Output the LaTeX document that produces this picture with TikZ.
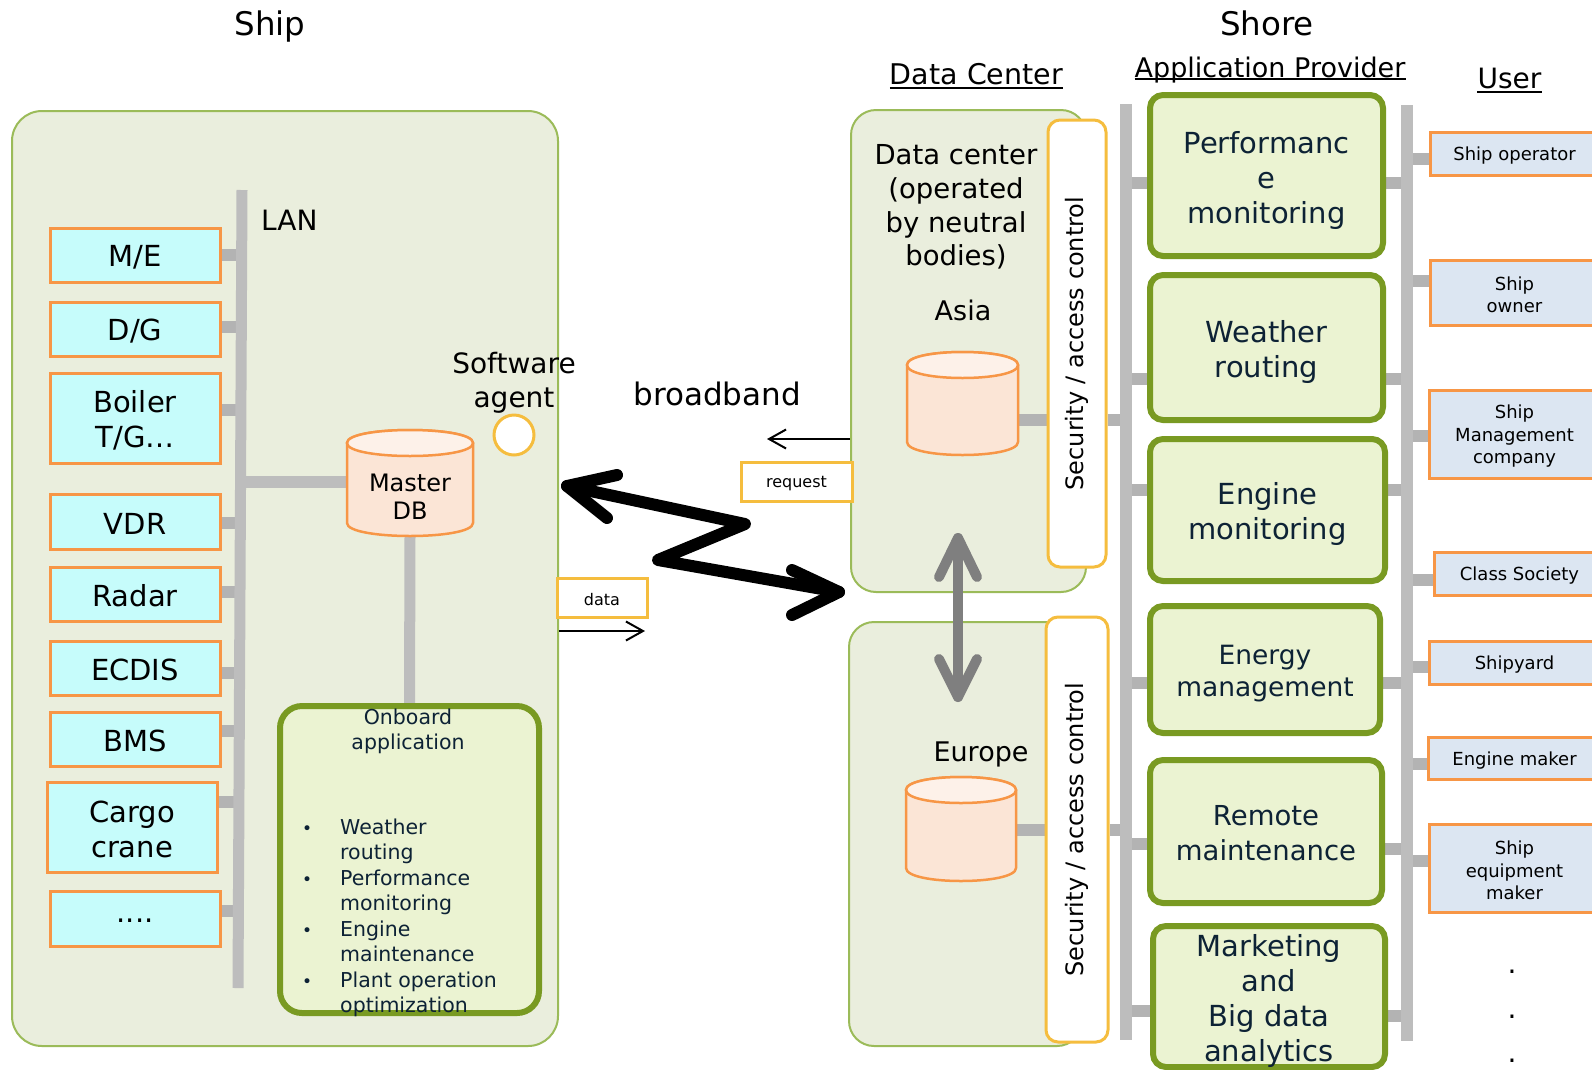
\documentclass[tikz,border=0pt]{standalone}
\usepackage{fontspec}
\usepackage{graphicx}
\setmainfont{DejaVu Sans}
\usetikzlibrary{arrows.meta}
\pgfdeclarelayer{panels}
\pgfdeclarelayer{links}
\pgfsetlayers{panels,links,main}

\definecolor{panelfill}{HTML}{EAEEDD}
\definecolor{panelline}{HTML}{9BBB59}
\definecolor{devfill}{HTML}{C6FCFB}
\definecolor{orangeline}{HTML}{F79646}
\definecolor{dbbody}{HTML}{FBE5D6}
\definecolor{dbtop}{HTML}{FDF1E9}
\definecolor{goldline}{HTML}{F5BD3E}
\definecolor{appfill}{HTML}{EBF3D2}
\definecolor{appline}{HTML}{799A22}
\definecolor{userfill}{HTML}{DCE6F2}
\definecolor{navy}{HTML}{0D2235}
\definecolor{busgray}{HTML}{BDBDBD}
\definecolor{stubgray}{HTML}{B3B3B3}
\definecolor{arrowgray}{HTML}{7F7F7F}

\newcommand\fs[2]{\fontsize{#1}{#2}\selectfont}

\tikzset{
  plain/.style={inner sep=0pt, align=center},
  panel/.style={draw=panelline, fill=panelfill, line width=2pt, rounded corners=30pt, inner sep=0pt},
  device/.style={draw=orangeline, fill=devfill, line width=3pt, inner sep=0pt},
  devtext/.style={plain, font=\fs{29}{35}, yshift=-2pt},
  appbox/.style={draw=appline, fill=appfill, line width=6pt, rounded corners=13pt, inner sep=0pt},
  apptext/.style={plain, text=navy, font=\fs{29}{35}, yshift=-4.5pt},
  userbox/.style={draw=orangeline, fill=userfill, line width=3pt, inner sep=0pt, anchor=west},
  usertext/.style={plain, font=\fs{18}{22.5}, yshift=-2.5pt},
  secbox/.style={draw=goldline, fill=white, line width=3pt, rounded corners=12pt, inner sep=0pt, font=\fs{24}{28}},
  tagbox/.style={draw=goldline, fill=white, line width=3pt, inner sep=0pt},
  tagtext/.style={plain, font=\fs{16}{19}, yshift=-2pt},
  bus/.style={draw=busgray, line width=12pt},
  stub/.style={draw=stubgray, line width=12pt},
  msgarrow/.style={line width=2pt, -{Straight Barb[length=17pt, width=19pt]}},
  zig/.style={line width=12pt, line cap=round, line join=round},
  dcarrow/.style={draw=arrowgray, line width=10pt, line cap=round, line join=round},
  uline/.style={line width=2pt},
}

% a framed box and its caption: box options, name, position, caption options, caption
\newcommand\tbox[5]{\node[#1] (#2) at (#3) {}; \node[#4] (#2Text) at (#2.center) {#5};}

% horizontal connector between two nodes at a given height
\newcommand\hstub[3]{\coordinate (stubrow) at (0,#3); \draw[stub] (#1 |- stubrow) -- (#2 |- stubrow);}

% database cylinder: name, centre x, top-ellipse y, bottom-ellipse y, half width, ellipse half height
\newcommand\dbcyl[6]{%
  \pgfmathsetmacro\cL{#2-#5}\pgfmathsetmacro\cR{#2+#5}%
  \pgfmathsetmacro\cTu{#3-4/3*#6}\pgfmathsetmacro\cTd{#3+4/3*#6}\pgfmathsetmacro\cBd{#4+4/3*#6}%
  \pgfmathsetmacro\cMid{(#3+#4)/2}\pgfmathsetmacro\cW{2*#5}\pgfmathsetmacro\cH{#4-#3+2*#6}%
  \node[inner sep=0pt, minimum width=\cW, minimum height=\cH] (#1) at (#2,\cMid) {};
  \draw[draw=orangeline, fill=dbbody, line width=2.5pt, line join=round]
    (\cL,#3) -- (\cL,#4) .. controls (\cL,\cBd) and (\cR,\cBd) .. (\cR,#4) -- (\cR,#3)
    .. controls (\cR,\cTu) and (\cL,\cTu) .. (\cL,#3) -- cycle;
  \draw[draw=orangeline, fill=dbtop, line width=2.5pt]
    (\cL,#3) .. controls (\cL,\cTu) and (\cR,\cTu) .. (\cR,#3)
    .. controls (\cR,\cTd) and (\cL,\cTd) .. (\cL,#3) -- cycle;
}

\begin{document}
\begin{tikzpicture}[x=1pt, y=-1pt]
\useasboundingbox (0,0) rectangle (1592,1069);
\clip (0,0) rectangle (1592,1069);

% ---------- background panels ----------
\begin{pgfonlayer}{panels}
  \fill[white] (0,0) rectangle (1592,1069);
  \node[panel, minimum width=546, minimum height=935] (ship) at (285,578.5) {};
  \node[panel, rounded corners=25pt, minimum width=235, minimum height=482] (asia) at (968.5,351) {};
  \node[panel, rounded corners=25pt, minimum width=233, minimum height=424] (europe) at (965.5,834) {};
\end{pgfonlayer}

% ---------- headings ----------
\node[plain, anchor=base, font=\fs{32.5}{38}] (tShip) at (270,35) {Ship};
\node[plain, anchor=base, font=\fs{32.5}{38}] (tShore) at (1267,35) {Shore};
\node[plain, anchor=base, font=\fs{28.5}{34}] (hDC) at (976.5,84) {Data Center};
\draw[uline] ([yshift=-4pt]hDC.base west) -- ([yshift=-4pt]hDC.base east);
\node[plain, anchor=base, font=\fs{27}{34}] (hAP) at (1270,77) {Application Provider};
\draw[uline] ([yshift=-2pt]hAP.base west) -- ([yshift=-2pt]hAP.base east);
\node[plain, anchor=base, font=\fs{28}{34}] (hUser) at (1509.5,88) {User};
\draw[uline] ([yshift=-4pt]hUser.base west) -- ([yshift=-4pt]hUser.base east);

% ---------- ship side ----------
\coordinate (lanTop) at (242,190);
\coordinate (lanBot) at (238,988);
\node[plain, anchor=base west, font=\fs{28}{34}] (lanLbl) at (261,230) {LAN};

\tbox{device, minimum width=170, minimum height=54}{me}{135,255}{devtext}{M/E}
\tbox{device, minimum width=170, minimum height=54}{dg}{135,329}{devtext}{D/G}
\tbox{device, minimum width=170, minimum height=90}{boiler}{135,418}{devtext}{Boiler\\T/G…}
\tbox{device, minimum width=170, minimum height=55}{vdr}{135,521.5}{devtext}{VDR}
\tbox{device, minimum width=170, minimum height=54}{radar}{135,594}{devtext}{Radar}
\tbox{device, minimum width=170, minimum height=54}{ecdis}{135,668}{devtext}{ECDIS}
\tbox{device, minimum width=170, minimum height=54}{bms}{135,739}{devtext}{BMS}
\tbox{device, minimum width=170, minimum height=90}{cargo}{132,827}{devtext}{Cargo\\crane}
\tbox{device, minimum width=170, minimum height=55}{etc}{135,918.5}{devtext}{....}

\dbcyl{mdb}{410}{443}{523}{63}{13}
\node[plain, font=\fs{24}{28}] (mdbText) at (410,497) {Master\\DB};

\node[plain, font=\fs{28}{34}] (agentText) at (514,383) {Software\\agent};
\node[circle, draw=goldline, fill=white, line width=3pt, minimum size=40, inner sep=0pt] (agent) at (514,435) {};

\node[appbox, rounded corners=22pt, minimum width=259, minimum height=307] (onb) at (409.5,859.5) {};
\node[plain, text=navy, font=\fs{20.5}{25}] (onbTitle) at (408,731.5) {Onboard\\application};
\node[plain, text=navy, anchor=base west, font=\fs{20.5}{25.5}] (onbList) at (302,834)
  {\begin{tabular}[t]{@{}l@{\hspace{28pt}}l@{}}
   {\fs{17}{17}•} & Weather\\
                  & routing\\
   {\fs{17}{17}•} & Performance\\
                  & monitoring\\
   {\fs{17}{17}•} & Engine\\
                  & maintenance\\
   {\fs{17}{17}•} & Plant operation\\
                  & optimization
   \end{tabular}};

% ---------- broadband link ----------
\node[plain, anchor=base, font=\fs{31}{36}] (bb) at (717,405) {broadband};
\coordinate (zL) at (567,486);
\coordinate (zA) at (745,524);
\coordinate (zB) at (658,560);
\coordinate (zR) at (839,592);
\draw[zig] (zL) -- (zA) -- (zB) -- (zR);
\draw[zig] (zL) ++(50,-11) -- (zL) -- ++(40,32);
\draw[zig] (zR) ++(-47,-22) -- (zR) -- ++(-47,23);

\tbox{tagbox, minimum width=111, minimum height=39}{req}{796.5,481.5}{tagtext}{request}
\tbox{tagbox, minimum width=90, minimum height=39}{dat}{602,597.5}{tagtext}{data}
\coordinate (reqTip) at (767,439);
\coordinate (dataTip) at (645,631);
\draw[msgarrow] (asia.west |- reqTip) -- (reqTip);
\draw[msgarrow] (ship.east |- dataTip) -- (dataTip);

% ---------- data centres ----------
\node[plain, font=\fs{27.5}{33.7}] (dcText) at (956,207) {Data center\\(operated\\by neutral\\bodies)};
\node[plain, font=\fs{27}{32}] (asiaLbl) at (963,310) {Asia};
\node[plain, font=\fs{27}{32}] (euLbl) at (981,754) {Europe};
\dbcyl{cylA}{962.5}{365}{442}{55.5}{13}
\dbcyl{cylE}{961}{790}{868}{55}{13}
\node[secbox, minimum width=58, minimum height=447] (secA) at (1077,343.5) {\rotatebox{90}{Security / access control}};
\node[secbox, minimum width=62, minimum height=425] (secE) at (1077,829.5) {\rotatebox{90}{Security / access control}};

\coordinate (upTip) at (958,538);
\coordinate (downTip) at (958,697);
\draw[dcarrow] (upTip) -- (downTip);
\draw[dcarrow] (upTip) ++(-19,39) -- (upTip) -- ++(19,39);
\draw[dcarrow] (downTip) ++(-19,-38) -- (downTip) -- ++(19,-38);

% ---------- application providers ----------
\coordinate (busLtop) at (1125.5,104);
\coordinate (busLbot) at (1125.5,1040);
\coordinate (busRtop) at (1407,105);
\coordinate (busRbot) at (1407,1041);

\tbox{appbox, minimum width=233, minimum height=161}{perf}{1266.5,175.5}{apptext}{Performanc\\e\\monitoring}
\tbox{appbox, minimum width=233, minimum height=145}{wr}{1266.5,347.5}{apptext}{Weather\\routing}
\tbox{appbox, minimum width=235, minimum height=142}{engm}{1267.5,510}{apptext, yshift=1pt}{Engine\\monitoring}
\tbox{appbox, minimum width=230, minimum height=127}{enm}{1265,669.5}{apptext, font=\fs{26.5}{32}}{Energy\\management}
\tbox{appbox, minimum width=232, minimum height=143}{rm}{1266,831.5}{apptext, yshift=2.5pt, font=\fs{27.5}{35}}{Remote\\maintenance}
\tbox{appbox, minimum width=232, minimum height=141}{mk}{1269,996.5}{apptext}{Marketing\\and\\Big data\\analytics}

% ---------- users ----------
\tbox{userbox, minimum width=168, minimum height=43}{uOp}{1429,153.5}{usertext}{Ship operator}
\tbox{userbox, minimum width=168, minimum height=65}{uOw}{1429,292.5}{usertext}{Ship\\owner}
\tbox{userbox, minimum width=170, minimum height=88}{uMg}{1428,434}{usertext}{Ship\\Management\\company}
\tbox{userbox, minimum width=170, minimum height=43}{uCs}{1433,573.5}{usertext}{Class Society}
\tbox{userbox, minimum width=170, minimum height=43}{uSy}{1428,662.5}{usertext}{Shipyard}
\tbox{userbox, minimum width=172, minimum height=42}{uEm}{1427,758}{usertext}{Engine maker}
\tbox{userbox, minimum width=170, minimum height=88}{uEq}{1428,868}{usertext}{Ship\\equipment\\maker}
\node[plain, font=\fs{28}{44.5}] (more) at (1512,1016.5) {.\\.\\.};

% ---------- network lines ----------
\begin{pgfonlayer}{links}
  % ship LAN
  \hstub{me.east}{lanTop}{255}
  \hstub{dg.east}{lanTop}{327}
  \hstub{boiler.east}{lanTop}{410}
  \hstub{vdr.east}{lanTop}{523}
  \hstub{radar.east}{lanTop}{592}
  \hstub{ecdis.east}{lanTop}{673}
  \hstub{bms.east}{lanTop}{731}
  \hstub{cargo.east}{lanTop}{802}
  \hstub{etc.east}{lanTop}{911}
  \coordinate (dbrow) at (0,482);
  \draw[bus] (lanTop |- dbrow) -- (mdb.west |- dbrow);
  \draw[bus, line width=11pt] (mdb.south) -- (onb.north);
  \draw[bus, line width=11pt] (lanTop) -- (lanBot);

  % data centres to the application bus
  \hstub{cylA.east}{secA.west}{420}
  \hstub{secA.east}{busLtop}{420}
  \hstub{cylE.east}{secE.west}{830}
  \hstub{secE.east}{busLtop}{830}

  % applications
  \hstub{busLtop}{perf.west}{183}
  \hstub{busLtop}{wr.west}{379}
  \hstub{busLtop}{engm.west}{490}
  \hstub{busLtop}{enm.west}{683}
  \hstub{busLtop}{rm.west}{844}
  \hstub{busLtop}{mk.west}{1011}
  \hstub{perf.east}{busRtop}{183}
  \hstub{wr.east}{busRtop}{379}
  \hstub{engm.east}{busRtop}{490}
  \hstub{enm.east}{busRtop}{683}
  \hstub{rm.east}{busRtop}{849}
  \hstub{mk.east}{busRtop}{1016}

  % users
  \hstub{busRtop}{uOp.west}{159}
  \hstub{busRtop}{uOw.west}{281}
  \hstub{busRtop}{uMg.west}{436}
  \hstub{busRtop}{uCs.west}{580}
  \hstub{busRtop}{uSy.west}{667}
  \hstub{busRtop}{uEm.west}{764}
  \hstub{busRtop}{uEq.west}{861}

  \draw[bus] (busLtop) -- (busLbot);
  \draw[bus] (busRtop) -- (busRbot);
\end{pgfonlayer}
\end{tikzpicture}
\end{document}
